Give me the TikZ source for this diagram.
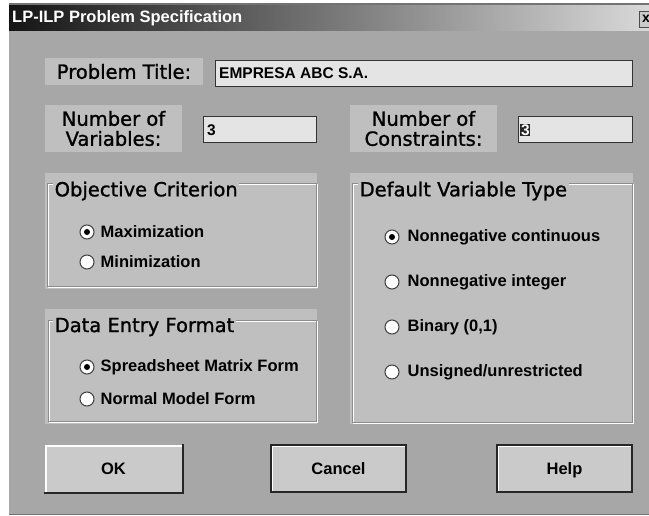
\documentclass[tikz,border=0pt]{standalone}
\usepackage{fontspec}
\setmainfont{Liberation Sans}
\newfontfamily\dlgfont[FakeBold=1.2]{DejaVu Sans}
\usepackage{tikz}
\usetikzlibrary{positioning}

\definecolor{dlggray}{HTML}{A7A7A7}
\definecolor{panelgray}{HTML}{BFBFBF}
\definecolor{fieldgray}{HTML}{E4E4E4}
\definecolor{btngray}{HTML}{CACACA}

\begin{document}
\begin{tikzpicture}[
  x=1pt, y=-1pt,
  lbl/.style={fill=panelgray, minimum height=27pt, align=center, inner sep=0pt,
    font=\dlgfont\fontsize{19.5}{20}\selectfont},
  field/.style={fill=fieldgray, draw=black!80, line width=1pt, minimum height=26pt, inner sep=0pt},
  entry/.style={anchor=west, inner sep=0pt, font=\bfseries\fontsize{15.5}{17}\selectfont},
  grptitle/.style={anchor=west, fill=panelgray, inner sep=1.5pt, font=\dlgfont\fontsize{19.5}{20}\selectfont},
  etch/.style={draw=black!45, line width=1pt},
  radio/.style={circle, draw=black!75, line width=1pt, fill=white, minimum size=14pt, inner sep=0pt},
  radioon/.style={radio, path picture={\fill[black] (path picture bounding box.center) circle (3pt);}},
  choice/.style={anchor=west, inner sep=0pt, font=\bfseries\fontsize{16.5}{18}\selectfont},
  btn/.style={fill=btngray, draw=black!85, line width=1.3pt, minimum width=135pt, minimum height=47pt,
    text height=12pt, text depth=0pt,
    font=\bfseries\fontsize{16.5}{18}\selectfont,
    path picture={\draw[white, line width=3pt] (path picture bounding box.south west)
      -- (path picture bounding box.north west) -- (path picture bounding box.north east);}},
]
  \useasboundingbox (0,0) rectangle (649,516);
  \fill[white] (0,0) rectangle (649,516);

  % Dialog body
  \fill[black!55] (9,3) rectangle (649,515);
  \fill[dlggray] (9,6) rectangle (649,514);

  % Title bar
  \shade[left color=black!92, right color=black!15] (9,6) rectangle (649,31);
  \node[anchor=west, text=white, inner sep=0pt, font=\bfseries\fontsize{16.5}{18}\selectfont]
    (ttl) at (12,18.5) {LP-ILP Problem Specification};
  \node[fill=btngray, draw=black!70, minimum width=14pt, minimum height=16pt, inner sep=0pt,
    font=\bfseries\fontsize{14}{16}\selectfont] (close) at (646,19) {x};

  % Problem title
  \node[lbl, minimum width=158pt] (ptlbl) at (124,71.5) {Problem Title:};
  \node[field, minimum width=417pt] (ptfield) at (423.5,73.5) {};
  \node[entry] (pttext) at (219,73.5) {EMPRESA ABC S.A.};

  % Number of variables / constraints
  \node[lbl, minimum width=137pt, minimum height=47pt] (nvlbl) at (113.5,128.5) {Number of\\Variables:};
  \node[field, minimum width=113pt] (nvfield) at (259.5,130) {};
  \node[entry] (nvtext) at (207,130) {3};
  \node[lbl, minimum width=147pt, minimum height=47pt] (nclbl) at (423.5,128.5) {Number of\\Constraints:};
  \node[field, minimum width=114pt] (ncfield) at (575,130) {};
  \node[entry, fill=black!85, text=white, inner sep=0.8pt] (nctext) at (520,130) {3};

  % Objective criterion
  \fill[panelgray] (45,173) rectangle (317,289);
  \draw[white, line width=1pt] (48,185) rectangle (317,288);
  \draw[etch] (47,184) rectangle (316,287);
  \node[grptitle] (objlbl) at (53,191) {Objective Criterion};
  \node[radioon] (maxrb) at (87,232) {};
  \node[choice, right=6pt of maxrb] (maxtxt) {Maximization};
  \node[radio] (minrb) at (87,262) {};
  \node[choice, right=6pt of minrb] (mintxt) {Minimization};

  % Data entry format
  \fill[panelgray] (45,309) rectangle (317,424);
  \draw[white, line width=1pt] (49,322) rectangle (317,422);
  \draw[etch] (48,321) rectangle (316,421);
  \node[grptitle] (datalbl) at (53,327) {Data Entry Format};
  \node[radioon] (ssrb) at (87,367) {};
  \node[choice, right=6pt of ssrb] (sstxt) {Spreadsheet Matrix Form};
  \node[radio] (nmrb) at (87,399) {};
  \node[choice, right=6pt of nmrb] (nmtxt) {Normal Model Form};

  % Default variable type
  \fill[panelgray] (350,173) rectangle (633,424);
  \draw[white, line width=1pt] (353,185) rectangle (633,423);
  \draw[etch] (352,184) rectangle (632,422);
  \node[grptitle] (typelbl) at (358,191) {Default Variable Type};
  \node[radioon] (contrb) at (392,237) {};
  \node[choice, right=8pt of contrb] (conttxt) {Nonnegative continuous};
  \node[radio] (intrb) at (392,282) {};
  \node[choice, right=8pt of intrb] (inttxt) {Nonnegative integer};
  \node[radio] (binrb) at (392,327) {};
  \node[choice, right=8pt of binrb] (bintxt) {Binary (0,1)};
  \node[radio] (freerb) at (392,372) {};
  \node[choice, right=8pt of freerb] (freetxt) {Unsigned/unrestricted};

  % Buttons
  \node[btn, draw=none, minimum width=137pt] (okbtn) at (113.5,468.5) {OK};
  \draw[black!85, line width=2pt] (okbtn.south west) -- (okbtn.south east) -- (okbtn.north east);
  \node[btn] (cancelbtn) at (338.5,468.5) {Cancel};
  \node[btn] (helpbtn) at (564.5,468.5) {Help};
\end{tikzpicture}
\end{document}
